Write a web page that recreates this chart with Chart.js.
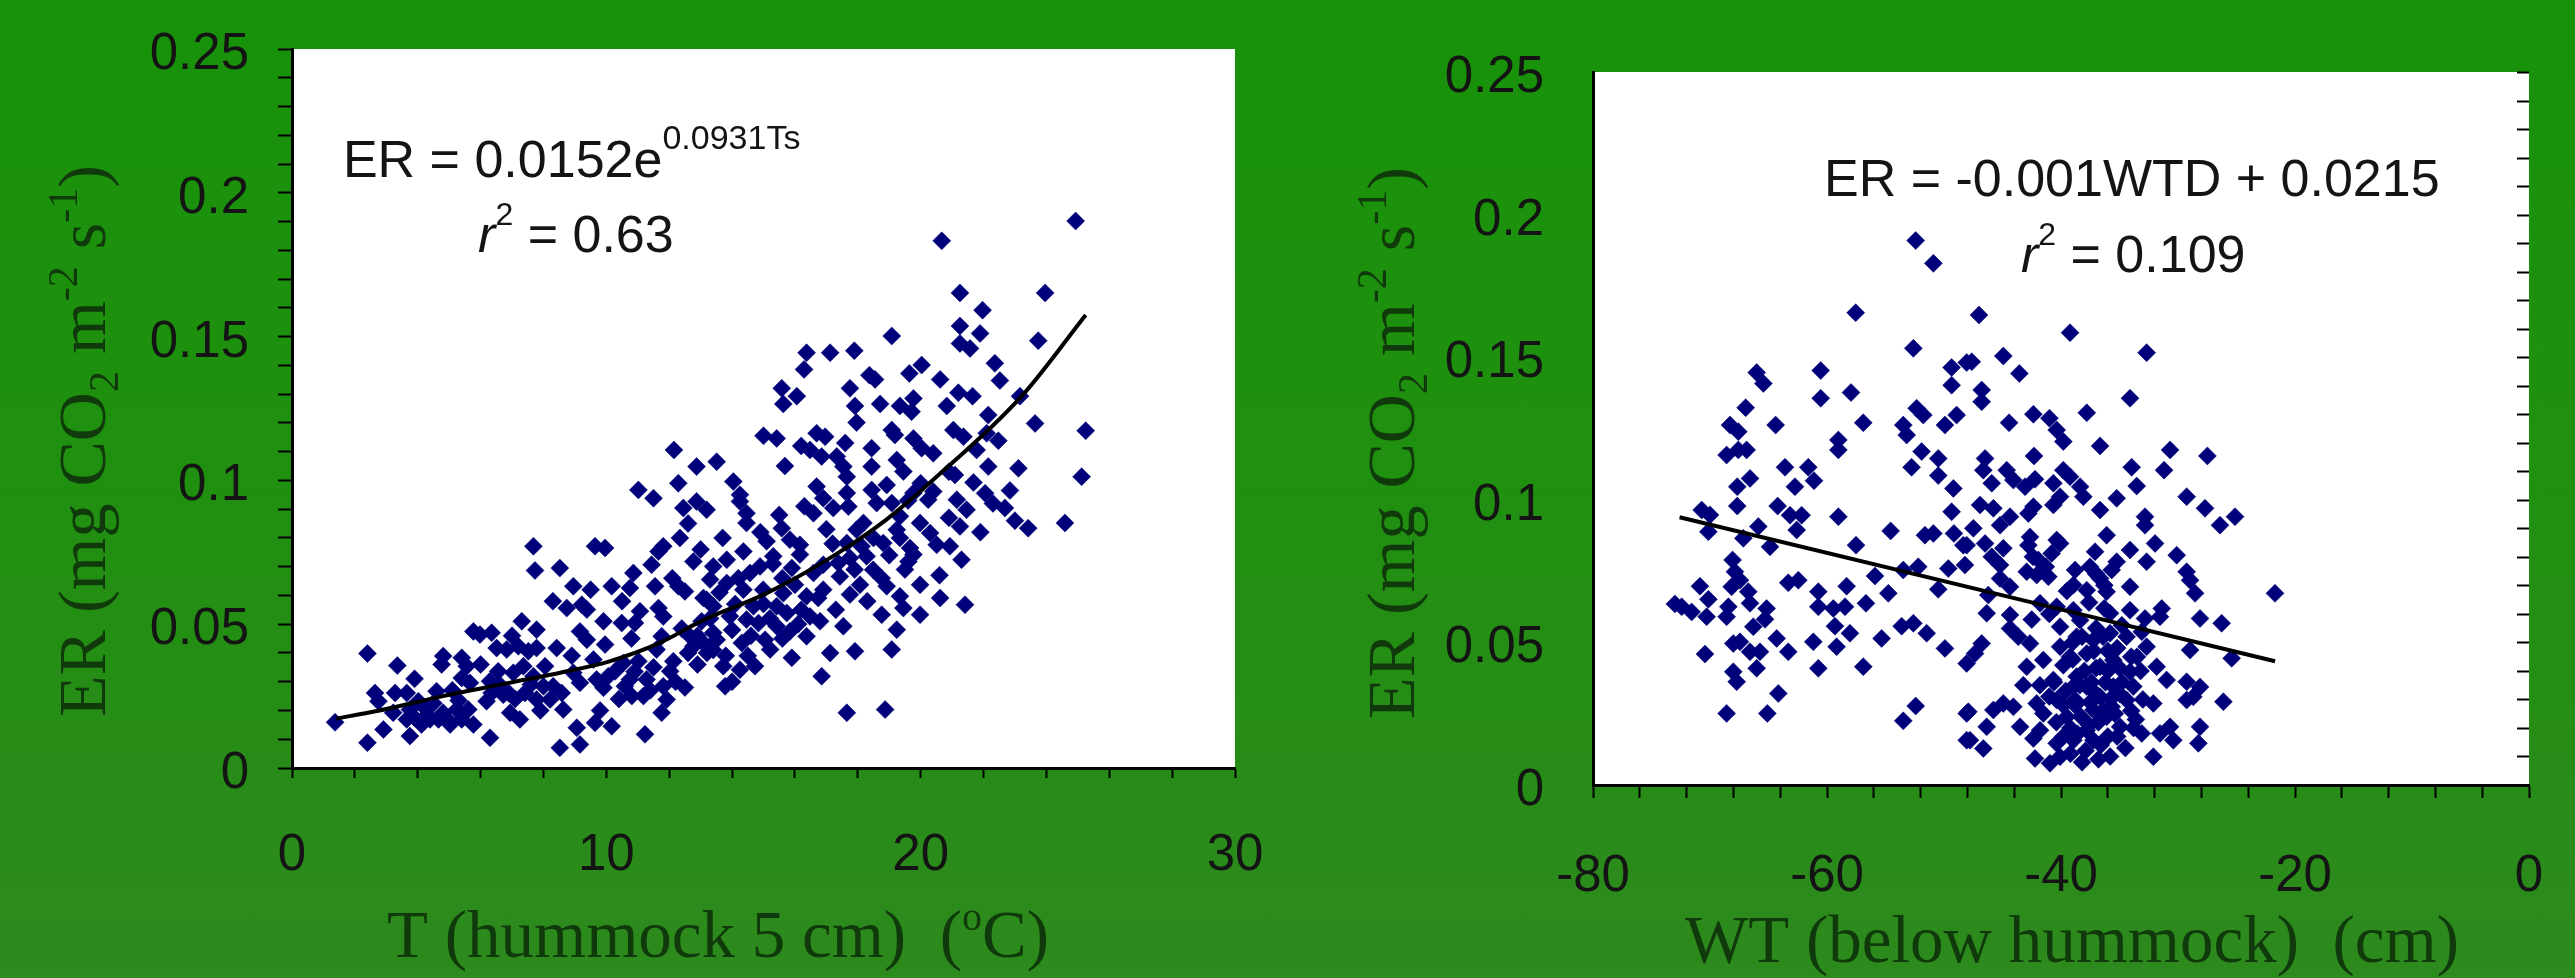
<!DOCTYPE html>
<html><head><meta charset="utf-8">
<script src="https://cdn.jsdelivr.net/npm/chart.js@4.4.1/dist/chart.umd.min.js"></script>
<style>
html,body{margin:0;padding:0;width:2575px;height:978px;overflow:hidden;
background:linear-gradient(180deg,#18920a 0%,#1f900f 45%,#2d8a1d 100%);}
#c1{position:absolute;left:0;top:0;}
#c2{position:absolute;left:1290px;top:0;}
</style></head><body>
<canvas id="c1" width="1290" height="978"></canvas>
<canvas id="c2" width="1285" height="978"></canvas>
<script>
// ---------- DATA ----------
// Left panel: soil temperature (°C) vs ER
const ptsTemp = [
[12.15,0.1106],[12.87,0.1048],
[24.93,0.1902],[20.67,0.1833],[21.25,0.1652],[23.96,0.1652],[21.97,0.1592],[21.25,0.1537],[21.89,0.1511],[23.74,0.1486],[21.25,0.1476],[21.57,0.1459],[19.08,0.1502],[16.37,0.1444],[17.12,0.1444],[17.89,0.1451],[16.29,0.1386],[22.36,0.1407],[22.52,0.1347],[18.37,0.1366],[18.55,0.1351],[19.64,0.1372],[20.03,0.1401],[20.62,0.1351],[15.58,0.1320],[16.06,0.1293],[15.63,0.1266],[17.75,0.1320],[17.91,0.1259],[18.71,0.1266],[19.34,0.1259],[19.77,0.1285],[19.71,0.1239],[20.83,0.1259],[21.20,0.1305],[21.65,0.1293],[23.16,0.1293],[22.15,0.1227],[23.64,0.1198],[25.25,0.1173],[17.96,0.1201],[19.08,0.1175],[19.18,0.1158],[19.77,0.1146],[21.04,0.1175],[21.36,0.1152],[22.10,0.1164],[22.47,0.1138],[15.00,0.1155],[15.42,0.1146],[16.69,0.1164],[16.96,0.1152],[16.48,0.1106],[16.85,0.1083],[17.33,0.1083],[15.68,0.1050],[18.44,0.1112],[20.03,0.1112],[20.40,0.1094],[19.24,0.1071],[19.45,0.1031],[18.44,0.1048],[17.54,0.1048],[17.65,0.1013],[16.69,0.0979],[13.51,0.1065],[14.04,0.0996],[14.25,0.0950],[21.78,0.1106],[22.15,0.1048],[23.11,0.1042],[21.68,0.0993],[21.09,0.1019],[22.84,0.0965],[22.05,0.0955],[25.12,0.1013],[18.92,0.0984],[20.40,0.0961],[18.44,0.0967],
[1.37,0.0159],[2.40,0.0398],[2.40,0.0088],[3.35,0.0356],[2.64,0.0261],[2.75,0.0232],[3.28,0.0261],[3.65,0.0261],[2.91,0.0134],[3.22,0.0192],[3.65,0.0169],[3.75,0.0111],[4.02,0.0232],[4.28,0.0203],[4.12,0.0151],[4.60,0.0267],[4.81,0.0389],[4.76,0.0360],[4.66,0.0169],[5.03,0.0151],[5.40,0.0383],[5.40,0.0313],[5.66,0.0296],[5.24,0.0203],[5.61,0.0203],[5.40,0.0169],[5.77,0.0151],[6.30,0.0105],[5.77,0.0475],[5.98,0.0464],[6.35,0.0470],[6.51,0.0417],[6.83,0.0412],[6.30,0.0302],[6.19,0.0232],[6.56,0.0336],[6.72,0.0255],[6.94,0.0192],[7.25,0.0169],[7.31,0.0510],[7.78,0.0481],[7.20,0.0423],[7.52,0.0406],[7.78,0.0417],[7.36,0.0354],[7.68,0.0319],[7.41,0.0261],[7.78,0.0238],[7.68,0.0771],[7.73,0.0687],[8.52,0.0695],[8.95,0.0632],[8.42,0.0417],[8.05,0.0354],[8.31,0.0284],[8.58,0.0261],[8.63,0.0203],[8.52,0.0070],[9.06,0.0140],[9.16,0.0082],[8.74,0.0556],[9.22,0.0568],[9.38,0.0551],[9.16,0.0475],[9.38,0.0446],[8.95,0.0331],[9.16,0.0296],[9.64,0.0157],[10.17,0.0145],[9.64,0.0771],[9.96,0.0765],[10.17,0.0632],[10.75,0.0626],[10.86,0.0678],[9.91,0.0510],[10.49,0.0504],[10.91,0.0504],[11.07,0.0545],[9.96,0.0429],[9.59,0.0377],[9.69,0.0308],[10.06,0.0319],[9.91,0.0279],[10.54,0.0365],[10.75,0.0308],[10.59,0.0284],[11.02,0.0371],[11.28,0.0308],[11.23,0.0117],[11.55,0.0632],[11.44,0.0707],[11.66,0.0753],[11.81,0.0771],[12.34,0.0800],[12.77,0.0718],[12.29,0.0632],[12.50,0.0614],[13.09,0.0591],[11.66,0.0556],[11.81,0.0527],[11.76,0.0458],[11.60,0.0412],[12.13,0.0371],[12.03,0.0336],[11.81,0.0284],[11.92,0.0238],[11.76,0.0192],[12.66,0.0458],[12.77,0.0423],[13.03,0.0510],[11.02,0.0967],[11.50,0.0938],[12.29,0.0990],[12.45,0.0904],[12.87,0.0927],[7.04,0.0331],[8.00,0.0284],[8.21,0.0238],[10.28,0.0336],[6.35,0.0261],[4.81,0.0192],[3.75,0.0203],[4.39,0.0169],[5.56,0.0354],[11.18,0.0250],[10.81,0.0250],
[13.19,0.0898],[14.25,0.0927],[14.46,0.0886],[14.46,0.0852],[16.90,0.0938],[16.59,0.0886],[17.65,0.0956],[17.22,0.0904],[17.70,0.0909],[18.60,0.0921],[19.08,0.0921],[19.77,0.0956],[20.24,0.0933],[19.98,0.0852],[19.34,0.0875],[19.24,0.0828],[19.34,0.0800],[18.18,0.0852],[17.96,0.0828],[18.81,0.0782],[20.30,0.0817],[20.51,0.0776],[21.15,0.0933],[21.46,0.0898],[22.68,0.0904],[23.42,0.0834],[24.59,0.0852],[21.25,0.0840],[20.93,0.0771],[21.30,0.0724],[19.66,0.0765],[19.61,0.0718],[19.98,0.0637],[20.62,0.0591],[21.41,0.0568],[19.98,0.0533],[19.34,0.0597],[19.45,0.0556],[18.76,0.0533],[19.24,0.0481],[19.08,0.0412],[18.92,0.0632],[18.49,0.0689],[18.28,0.0736],[18.76,0.0660],[18.07,0.0637],[17.75,0.0603],[17.43,0.0666],[17.38,0.0713],[17.75,0.0730],[17.54,0.0493],[17.91,0.0406],[17.12,0.0400],[16.85,0.0319],[17.65,0.0192],[18.87,0.0203],[16.80,0.0510],[16.48,0.0527],[16.37,0.0597],[16.74,0.0591],[16.37,0.0458],[16.90,0.0707],[16.59,0.0678],[16.16,0.0742],[15.90,0.0695],[15.90,0.0383],[15.74,0.0539],[15.84,0.0475],[15.42,0.0493],[15.21,0.0412],[15.05,0.0446],[14.73,0.0354],[14.25,0.0342],[13.72,0.0354],[13.78,0.0284],[14.31,0.0435],[13.51,0.0446],[13.40,0.0470],[13.09,0.0435],[13.40,0.0701],[13.83,0.0724],[13.30,0.0655],[13.83,0.0643],[13.19,0.0585],[13.40,0.0562],[14.36,0.0753],[14.57,0.0678],[14.89,0.0701],[15.10,0.0788],[15.31,0.0736],[15.58,0.0834],[15.84,0.0794],[16.16,0.0776],[14.99,0.0620],[14.68,0.0562],[14.46,0.0516],[15.63,0.0608],[16.00,0.0637],[15.42,0.0562],[14.84,0.0504],[14.36,0.0620],[13.93,0.0528],[19.77,0.0742],[18.12,0.0771],[17.65,0.0782],
[14.90,0.0820],[15.30,0.0710],[15.60,0.0660],[14.20,0.0660],[13.70,0.0800],[15.00,0.0570],[16.20,0.0550],[16.90,0.0620],[17.30,0.0550],[18.30,0.0580],[20.60,0.0670],[21.90,0.0820],[23.00,0.0860],[22.30,0.0920],[20.90,0.0870],[15.50,0.0880],[16.30,0.0910],[17.00,0.0830],[12.60,0.0850],[13.00,0.0760],[12.10,0.0660],[10.50,0.0580],[9.50,0.0620],[8.30,0.0580],[12.90,0.0360],[13.40,0.0410],[14.00,0.0300],[12.50,0.0280],[10.80,0.0450],[8.90,0.0390],[7.00,0.0460],[6.00,0.0360],[5.10,0.0270],[3.90,0.0310],[9.80,0.0200],[10.40,0.0240],
[4.30,0.0185],[4.90,0.0175],[5.30,0.0235],[3.90,0.0175],[4.50,0.0225],[6.60,0.0290],[7.10,0.0240],[7.60,0.0290],[6.90,0.0260],[7.90,0.0200],[10.90,0.0335],[11.50,0.0350],[11.40,0.0270],[12.20,0.0300],[12.40,0.0485],[12.90,0.0460],[13.20,0.0400],[12.60,0.0400],[13.60,0.0610],[14.00,0.0480],[14.60,0.0460],[15.20,0.0520],[15.60,0.0450],[16.10,0.0500],[13.80,0.0390],[14.50,0.0390],[13.30,0.0520],[14.10,0.0570],[17.90,0.0690],[18.50,0.0800],[19.00,0.0740],[19.50,0.0690],[17.20,0.0780],[16.20,0.1120],[17.60,0.1130],[20.00,0.0990],[20.90,0.1030],[19.60,0.0930]
];
// Fitted curve
const fitTemp = [1.4, 2.7, 4.8, 6.9, 8.6, 10.1, 11.7, 13.0, 15.1, 17.2, 18.9, 20.4, 23.2, 25.25];
const fitTempER = [0.0172, 0.0198, 0.0250, 0.0296, 0.0333, 0.0371, 0.0435, 0.0510, 0.0608, 0.0736, 0.0863, 0.1002, 0.1291, 0.1575];

// Right panel: water table (cm) vs ER
const ptsWT = [
[-52.42,0.1909],[-50.91,0.1829],[-57.55,0.1656],[-52.62,0.1531],[-66.01,0.1446],[-65.44,0.1408],[-60.54,0.1453],[-60.54,0.1356],[-57.95,0.1376],[-56.90,0.1270],[-66.95,0.1323],[-64.39,0.1262],[-68.29,0.1262],[-67.58,0.1239],[-68.58,0.1157],[-67.58,0.1175],[-66.87,0.1175],[-59.03,0.1210],[-59.03,0.1175],[-66.58,0.1075],[-67.67,0.1046],[-67.67,0.0978],[-63.59,0.1114],[-62.74,0.1046],[-61.60,0.1114],[-61.11,0.1067],[-64.22,0.0978],[-70.71,0.0964],[-70.00,0.0947],[-52.34,0.1321],[-51.77,0.1297],[-53.48,0.1262],[-53.19,0.1227],[-51.91,0.1169],[-50.49,0.1145],[-52.77,0.1114],[-50.49,0.1085],[-49.35,0.1464],[-49.35,0.1402],[-48.06,0.1481],[-48.92,0.1297],[-49.92,0.1262],[-49.20,0.1040],[-49.35,0.0958],[-63.16,0.0946],[-62.17,0.0946],[-59.03,0.0941],
[-47.01,0.1648],[-39.23,0.1586],[-32.68,0.1516],[-47.63,0.1484],[-44.93,0.1504],[-43.56,0.1443],[-46.78,0.1385],[-46.78,0.1344],[-34.10,0.1356],[-37.80,0.1305],[-44.44,0.1270],[-42.36,0.1300],[-40.99,0.1286],[-40.37,0.1245],[-39.80,0.1204],[-36.66,0.1189],[-30.68,0.1175],[-27.49,0.1154],[-42.31,0.1154],[-46.49,0.1145],[-46.64,0.1104],[-45.92,0.1058],[-44.64,0.1104],[-44.07,0.1069],[-43.07,0.1046],[-42.22,0.1072],[-40.65,0.1058],[-39.80,0.1104],[-39.23,0.1081],[-38.37,0.1046],[-38.09,0.1011],[-40.08,0.1011],[-40.65,0.0982],[-42.36,0.0976],[-46.92,0.0982],[-45.78,0.0970],[-44.36,0.0941],[-36.66,0.0964],[-35.24,0.1005],[-33.96,0.1114],[-33.53,0.1048],[-31.19,0.1104],[-29.26,0.1011],[-27.69,0.0970],[-25.13,0.0941],[-32.82,0.0941],
[-70.14,0.0888],[-62.59,0.0894],[-65.87,0.0906],[-67.15,0.0865],[-64.87,0.0835],[-57.52,0.0841],[-54.56,0.0891],[-51.63,0.0876],[-50.91,0.0882],[-49.15,0.0882],[-48.35,0.0841],[-49.63,0.0759],[-48.21,0.0771],[-52.20,0.0765],[-53.48,0.0754],[-55.90,0.0733],[-54.76,0.0672],[-50.49,0.0686],[-68.07,0.0789],[-67.87,0.0748],[-67.44,0.0718],[-68.15,0.0695],[-70.86,0.0697],[-70.14,0.0651],[-72.42,0.0625],[-73.00,0.0635],[-71.57,0.0607],[-70.29,0.0590],[-68.43,0.0625],[-68.58,0.0590],[-66.73,0.0678],[-66.58,0.0637],[-65.16,0.0619],[-65.30,0.0581],[-66.30,0.0555],[-63.31,0.0709],[-62.45,0.0718],[-60.74,0.0678],[-60.74,0.0625],[-59.46,0.0619],[-58.46,0.0625],[-58.32,0.0697],[-56.67,0.0637],[-59.32,0.0557],[-58.04,0.0532],[-59.18,0.0485],[-61.17,0.0502],[-60.74,0.0409],[-56.90,0.0415],[-55.33,0.0514],[-53.62,0.0557],[-52.62,0.0567],[-51.48,0.0532],[-49.92,0.0479],[-64.30,0.0514],[-63.31,0.0467],[-66.58,0.0467],[-65.73,0.0467],[-68.01,0.0496],[-67.44,0.0502],[-70.43,0.0459],[-66.01,0.0409],[-68.01,0.0397],[-67.72,0.0362],[-64.16,0.0321],[-68.58,0.0251],[-65.10,0.0251],[-52.42,0.0277],[-53.48,0.0225],[-48.06,0.0426],[-48.06,0.0251],[-48.06,0.0157],
[-47.49,0.0900],[-45.21,0.0911],[-42.79,0.0952],[-32.82,0.0911],[-26.41,0.0911],[-48.06,0.0841],[-46.49,0.0847],[-44.93,0.0830],[-42.65,0.0870],[-42.79,0.0841],[-40.37,0.0859],[-36.10,0.0876],[-37.09,0.0818],[-34.10,0.0824],[-31.96,0.0847],[-30.11,0.0806],[-32.68,0.0783],[-45.92,0.0800],[-45.21,0.0771],[-41.94,0.0789],[-40.80,0.0812],[-40.08,0.0847],[-42.08,0.0736],[-41.08,0.0730],[-42.93,0.0748],[-45.21,0.0724],[-44.36,0.0695],[-46.21,0.0666],[-38.80,0.0754],[-37.52,0.0765],[-36.66,0.0724],[-35.67,0.0754],[-35.24,0.0783],[-34.10,0.0695],[-38.94,0.0701],[-37.80,0.0683],[-36.10,0.0678],[-29.26,0.0748],[-28.97,0.0718],[-28.54,0.0672],[-21.71,0.0672],[-46.35,0.0602],[-44.36,0.0596],[-44.36,0.0549],[-43.65,0.0520],[-42.65,0.0496],[-46.78,0.0496],[-47.35,0.0461],[-40.08,0.0555],[-41.79,0.0637],[-40.37,0.0625],[-38.94,0.0613],[-38.37,0.0578],[-35.81,0.0602],[-34.10,0.0613],[-32.82,0.0584],[-31.39,0.0619],[-31.54,0.0590],[-28.12,0.0584],[-26.27,0.0567],[-28.97,0.0473],[-25.41,0.0444],[-38.66,0.0520],[-37.23,0.0508],[-35.81,0.0532],[-34.39,0.0520],[-33.10,0.0537],[-32.68,0.0485],[-40.08,0.0485],[-41.51,0.0438],[-42.93,0.0415],[-43.22,0.0350],[-40.65,0.0368],[-39.23,0.0450],[-37.80,0.0461],[-36.66,0.0415],[-35.53,0.0438],[-34.10,0.0397],[-31.82,0.0415],[-30.97,0.0368],[-29.26,0.0362],[-28.12,0.0344],[-28.69,0.0309],[-26.12,0.0292],[-32.11,0.0286],[-38.66,0.0380],[-37.80,0.0345],[-36.66,0.0309],[-35.53,0.0345],[-34.39,0.0298],[-38.80,0.0298],[-37.23,0.0263],[-39.51,0.0239],[-36.10,0.0239],[-34.95,0.0204],[-37.80,0.0192],[-38.94,0.0157],[-37.23,0.0157],[-40.37,0.0146],[-42.08,0.0286],[-41.51,0.0251],[-41.79,0.0192],[-42.36,0.0163],[-42.22,0.0093],[-40.94,0.0076],[-40.08,0.0099],[-44.93,0.0286],[-45.78,0.0263],[-44.07,0.0274],[-43.50,0.0204],[-46.35,0.0204],[-47.92,0.0257],[-47.78,0.0157],[-46.64,0.0128],[-33.10,0.0181],[-31.54,0.0181],[-30.40,0.0157],[-32.11,0.0099],[-30.68,0.0204],[-28.12,0.0204],[-28.26,0.0146],[-29.26,0.0298],[-40.37,0.0298],[-35.67,0.0274],[-33.82,0.0345],[-38.94,0.0345],
[-39.0,0.050],[-37.0,0.055],[-36.0,0.047],[-38.0,0.040],[-36.2,0.036],[-35.0,0.032],[-39.6,0.033],[-37.5,0.029],[-36.8,0.022],[-35.4,0.025],[-38.3,0.024],[-39.2,0.020],[-36.0,0.017],[-34.5,0.013],[-37.9,0.012],[-35.8,0.010],[-33.6,0.023],[-33.5,0.045],[-34.8,0.056],[-36.3,0.062],[-37.6,0.064],[-39.5,0.068],[-41.0,0.060],[-42.5,0.058],[-39.8,0.042],[-38.4,0.035],[-37.0,0.041],[-35.0,0.041],
[-39.0,0.044],[-38.2,0.052],[-37.2,0.047],[-36.4,0.052],[-35.2,0.048],[-34.0,0.045],[-33.2,0.040],[-34.8,0.036],[-36.0,0.040],[-37.4,0.036],[-38.8,0.028],[-37.0,0.032],[-35.8,0.030],[-34.0,0.026],[-33.0,0.030],[-36.4,0.026],[-37.6,0.021],[-38.6,0.018],[-39.8,0.017],[-36.6,0.014],[-35.2,0.017],[-33.8,0.020],[-39.2,0.011],[-38.2,0.008],[-36.8,0.009],[-40.6,0.036],[-39.8,0.028],[-41.0,0.031],[-41.8,0.035],[-40.4,0.022],[-41.3,0.0765],[-42.4,0.0800],[-37.0,0.0740],[-36.3,0.0700]
];
const fitWT = [-72.6, -21.7];
const fitWTER = [0.0939, 0.0434];

// Tick label settings
const tempLabelEvery = 10, wtLabelEvery = 20, erLabelEvery = 5; // ER labels every 0.05

// ---------- STYLE ----------
const SERIF = '"Liberation Serif","Times New Roman",serif';
const SANS = '"Liberation Sans",Arial,sans-serif';
const TITLE_COL = '#103a0b';
const TXT = '#141414';
const MARK = '#00007a';

function S(t, size, o = {}) { return { t, size, dy: o.dy || 0, style: o.style || 'normal', fam: o.fam || SERIF }; }

function drawRich(ctx, segs, x, y, align, rot, color) {
  ctx.save(); ctx.translate(x, y); if (rot) ctx.rotate(rot);
  ctx.textBaseline = 'alphabetic'; ctx.textAlign = 'left';
  let total = 0; const ws = [];
  for (const s of segs) { ctx.font = `${s.style} ${s.size}px ${s.fam}`; const w = ctx.measureText(s.t).width; ws.push(w); total += w; }
  let cx = align === 'center' ? -total / 2 : 0;
  segs.forEach((s, i) => { ctx.font = `${s.style} ${s.size}px ${s.fam}`; ctx.fillStyle = color; ctx.fillText(s.t, cx, s.dy); cx += ws[i]; });
  ctx.restore();
}

const yTitle = () => [S('ER (mg CO', 68), S('2', 42, { dy: 13 }), S(' m', 68), S('-2', 42, { dy: -28 }), S(' s', 68), S('-1', 42, { dy: -28 }), S(')', 68)];

const DECO = {
  c1: {
    ann: [
      { x: 1.62, y: 0.2054, segs: [S('ER = 0.0152e', 52, { fam: SANS }), S('0.0931Ts', 34, { fam: SANS, dy: -28 })] },
      { x: 5.92, y: 0.1793, segs: [S('r', 52, { fam: SANS, style: 'italic' }), S('2', 32, { fam: SANS, dy: -27 }), S(' = 0.63', 52, { fam: SANS })] }
    ],
    xTitle: { cx: 718, by: 957, segs: [S('T (hummock 5 cm)  (', 67), S('o', 40, { dy: -27 }), S('C)', 67)] },
    yTitle: { bx: 105, cy: 441, segs: yTitle() },
    rightTicks: false
  },
  c2: {
    ann: [
      { x: -60.26, y: 0.2065, segs: [S('ER = -0.001WTD + 0.0215', 52, { fam: SANS })] },
      { x: -43.42, y: 0.1799, segs: [S('r', 52, { fam: SANS, style: 'italic' }), S('2', 32, { fam: SANS, dy: -27 }), S(' = 0.109', 52, { fam: SANS })] }
    ],
    xTitle: { cx: 782, by: 962, segs: [S('WT (below hummock)  (cm)', 67)] },
    yTitle: { bx: 124, cy: 443, segs: yTitle() },
    rightTicks: true
  }
};

const deco = {
  id: 'deco',
  beforeDraw(chart) {
    const { ctx, chartArea: a } = chart;
    ctx.save(); ctx.fillStyle = '#ffffff';
    ctx.fillRect(a.left, a.top, a.right - a.left, a.bottom - a.top);
    ctx.restore();
  },
  afterDraw(chart) {
    const o = DECO[chart.canvas.id];
    const { ctx, chartArea: a, scales } = chart;
    if (o.rightTicks) {
      ctx.save(); ctx.strokeStyle = '#000'; ctx.lineWidth = 2;
      scales.y.ticks.forEach(t => {
        const py = Math.round(scales.y.getPixelForValue(t.value)) + 0.5;
        ctx.beginPath(); ctx.moveTo(a.right - 12, py); ctx.lineTo(a.right, py); ctx.stroke();
      });
      ctx.restore();
    }
    o.ann.forEach(an => drawRich(ctx, an.segs, scales.x.getPixelForValue(an.x), scales.y.getPixelForValue(an.y), 'left', 0, TXT));
    drawRich(ctx, o.xTitle.segs, o.xTitle.cx, o.xTitle.by, 'center', 0, TITLE_COL);
    drawRich(ctx, o.yTitle.segs, o.yTitle.bx, o.yTitle.cy, 'center', -Math.PI / 2, TITLE_COL);
  }
};

function erTickLabel(v) { const k = Math.round(v * 100); return k % erLabelEvery === 0 ? String(k / 100) : ''; }

function makeChart(id, pts, fx, fy, xcfg, layout) {
  return new Chart(document.getElementById(id), {
    type: 'scatter',
    data: {
      datasets: [
        { data: fx.map((x, i) => ({ x, y: fy[i] })), showLine: true, borderColor: '#000', borderWidth: 4,
          pointRadius: 0, tension: 0.4, cubicInterpolationMode: 'monotone', fill: false, order: 0 },
        { data: pts.map(p => ({ x: p[0], y: p[1] })), pointStyle: 'rectRot', pointRadius: 9,
          backgroundColor: MARK, borderColor: MARK, borderWidth: 0.5, order: 1 }
      ]
    },
    options: {
      responsive: false, animation: false, events: [],
      layout: { padding: layout.padding },
      plugins: { legend: { display: false }, tooltip: { enabled: false } },
      scales: {
        x: {
          type: 'linear', position: 'bottom', min: xcfg.min, max: xcfg.max,
          ticks: { stepSize: xcfg.step, autoSkip: false, maxRotation: 0, padding: xcfg.pad, color: TXT,
                   font: { size: 51, family: SANS }, callback: v => (Math.round(v) % xcfg.every === 0 ? String(Math.round(v)) : '') },
          grid: { display: true, drawOnChartArea: false, drawTicks: true, tickLength: xcfg.tl, tickWidth: 2, tickColor: '#000' },
          border: { display: true, color: '#000', width: 3 },
          afterFit: s => { s.height = layout.xh; s.paddingLeft = 0; s.paddingRight = 0; }
        },
        y: {
          type: 'linear', position: 'left', min: 0, max: 0.25,
          ticks: { stepSize: 0.01, autoSkip: false, padding: layout.ypad, labelOffset: 6, color: TXT,
                   font: { size: 51, family: SANS }, callback: erTickLabel },
          grid: { display: true, drawOnChartArea: false, drawTicks: layout.ytl > 0, tickLength: layout.ytl, tickWidth: 2, tickColor: '#000' },
          border: { display: true, color: '#000', width: 3 },
          afterFit: s => { s.width = layout.yw; s.paddingTop = 0; s.paddingBottom = 0; }
        }
      }
    },
    plugins: [deco]
  });
}

Chart.defaults.font.family = SANS;

makeChart('c1', ptsTemp, fitTemp, fitTempER,
  { min: 0, max: 30, step: 2, every: tempLabelEvery, pad: 47, tl: 10 },
  { padding: { left: 0, top: 49, right: 55, bottom: 0 }, xh: 210, yw: 292, ypad: 29, ytl: 14 });

makeChart('c2', ptsWT, fitWT, fitWTER,
  { min: -80, max: 0, step: 4, every: wtLabelEvery, pad: 48, tl: 13 },
  { padding: { left: 0, top: 72, right: 46, bottom: 0 }, xh: 193, yw: 303, ypad: 49, ytl: 0 });
</script>
</body></html>
